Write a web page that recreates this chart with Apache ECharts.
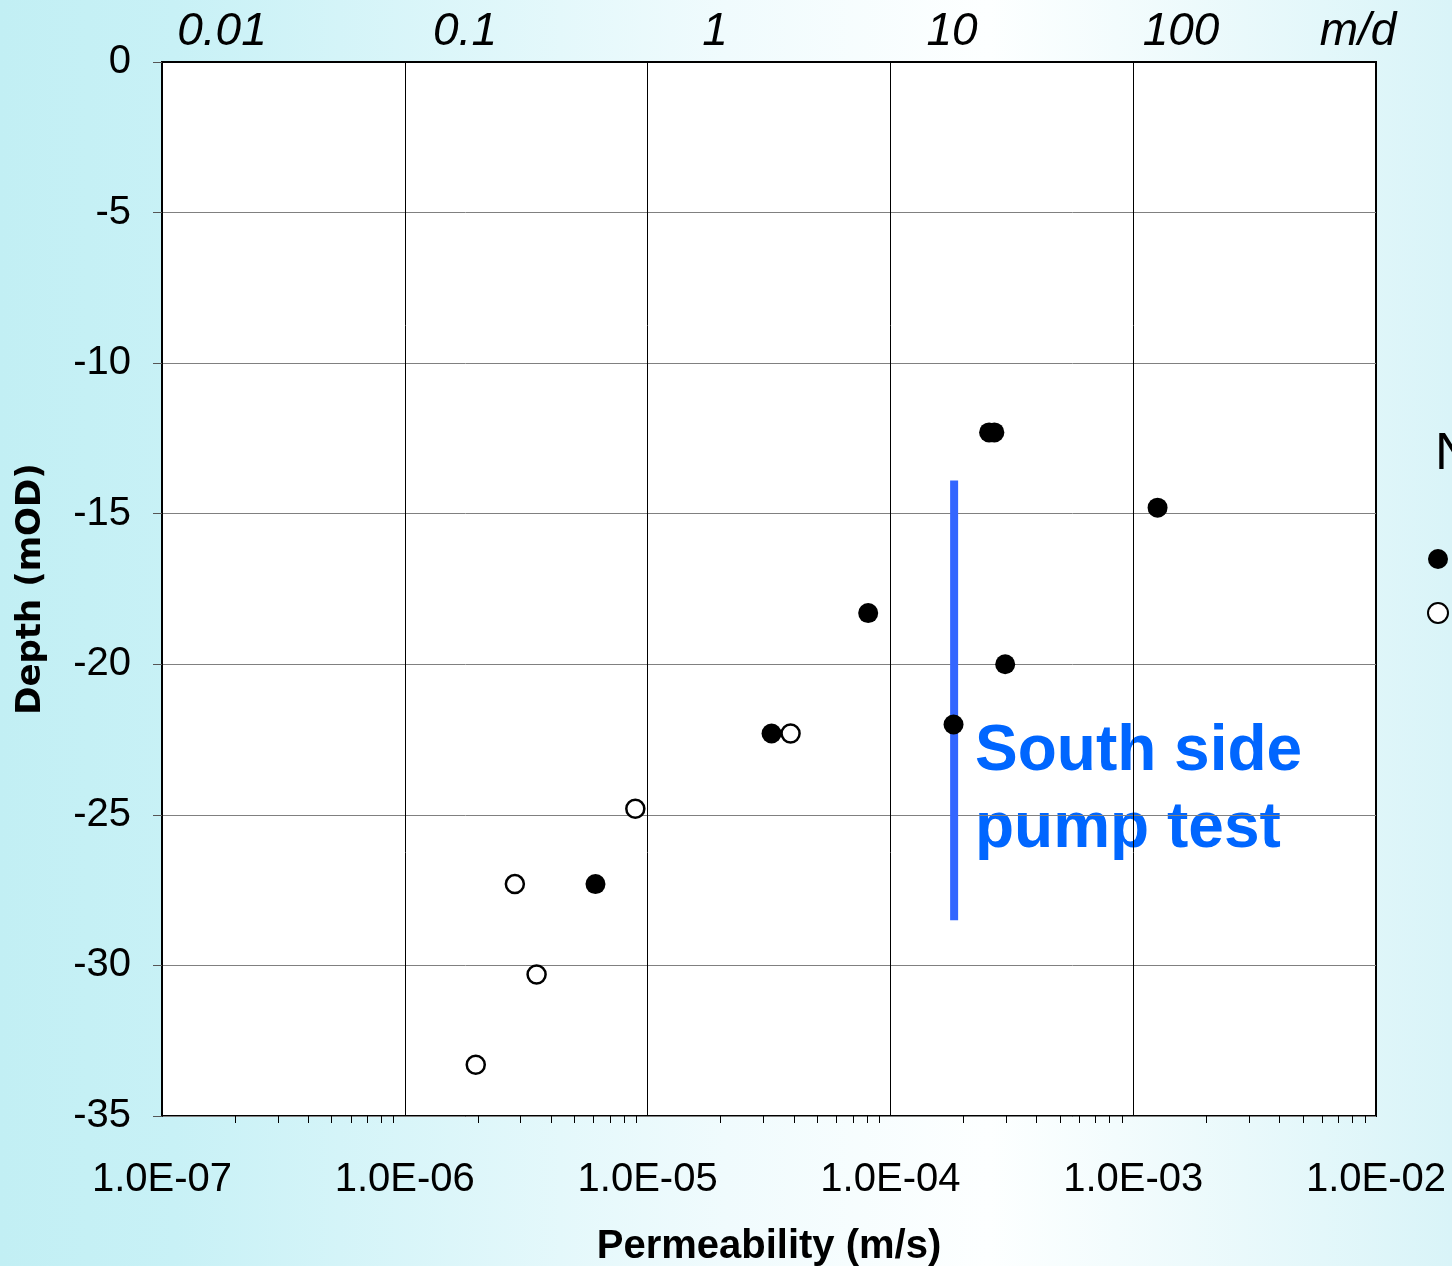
<!DOCTYPE html>
<html>
<head>
<meta charset="utf-8">
<script src="https://cdn.jsdelivr.net/npm/echarts@6/dist/echarts.min.js"></script>
<style>
html,body{margin:0;padding:0;}
#chart{width:1452px;height:1266px;}
</style>
</head>
<body>
<div id="chart"></div>
<script>
// ---- data ----
const filledK = [2.55e-4, 2.68e-4, 1.26e-3, 8.1e-5, 2.97e-4, 1.82e-4, 3.24e-5, 6.1e-6];
const filledDepth = [-12.3, -12.3, -14.8, -18.3, -20.0, -22.0, -22.3, -27.3];
const openK = [3.88e-5, 8.9e-6, 2.84e-6, 3.49e-6, 1.96e-6];
const openDepth = [-22.3, -24.8, -27.3, -30.3, -33.3];
const pumpK = [1.83e-4, 1.83e-4];
const pumpDepth = [-13.9, -28.5];
const topLabels = ['0.01', '0.1', '1', '10', '100', 'm/d'];
const minorTickValues = [];
for (let e = -7; e < -2; e++) {
  for (let m = 2; m <= 9; m++) minorTickValues.push(m * Math.pow(10, e));
}
const seriesNames = ['Filled', 'Open'];

const chart = echarts.init(document.getElementById('chart'), null, {renderer: 'canvas'});
const fmtK = v => {
  const e = Math.round(Math.log10(v));
  const s = e < 0 ? '-' : '+';
  const a = Math.abs(e);
  return '1.0E' + s + (a < 10 ? '0' + a : a);
};
const font = 'Liberation Sans';
const topX = [222, 465, 715, 952, 1181, 1358];

const option = {
  backgroundColor: {
    type: 'linear', x: 0, y: 0, x2: 1, y2: 0,
    colorStops: [
      {offset: 0, color: '#c2eff4'},
      {offset: 0.12, color: '#c8f1f6'},
      {offset: 0.5, color: '#f0fbfd'},
      {offset: 0.68, color: '#fdffff'},
      {offset: 1, color: '#d9f4f8'}
    ]
  },
  animation: false,
  textStyle: {fontFamily: font},
  grid: {left: 162, top: 62, right: 76, bottom: 150, containLabel: false, outerBoundsMode: 'none',
    show: true, backgroundColor: '#fff', borderColor: '#000', borderWidth: 2},
  legend: {
    orient: 'vertical', left: 1427, top: 549, padding: 0, itemWidth: 20, itemHeight: 20, itemGap: 33,
    textStyle: {fontSize: 14, color: '#000'},
    data: seriesNames
  },
  xAxis: [{
    type: 'log', logBase: 10, min: 1e-7, max: 1e-2,
    name: 'Permeability (m/s)', nameLocation: 'middle', nameGap: 111,
    nameTextStyle: {fontSize: 40, fontWeight: 'bold', color: '#000', fontFamily: font},
    axisLine: {lineStyle: {color: '#000', width: 2}},
    axisTick: {show: true, inside: false, length: 13, lineStyle: {color: '#000', width: 1}},
    axisLabel: {fontSize: 40, color: '#000', margin: 44, formatter: fmtK, fontFamily: font},
    splitLine: {show: true, lineStyle: {color: '#000', width: 1}},
    minorTick: {show: false}
  }, {
    type: 'log', logBase: 10, min: 1e-7, max: 1e-2, position: 'bottom', gridIndex: 0,
    axisLine: {show: false},
    axisTick: {show: true, inside: false, length: 7, customValues: minorTickValues, lineStyle: {color: '#000', width: 1}},
    axisLabel: {show: false},
    splitLine: {show: false}
  }],
  yAxis: {
    type: 'value', min: -35, max: 0, interval: 5,
    name: 'Depth (mOD)', nameLocation: 'middle', nameGap: 114,
    nameTextStyle: {fontSize: 34, fontWeight: 'bold', color: '#000', fontFamily: 'DejaVu Sans'},
    axisLine: {show: true, lineStyle: {color: '#000', width: 2}},
    axisTick: {show: true, inside: false, length: 9, lineStyle: {color: '#555', width: 1}},
    axisLabel: {fontSize: 40, color: '#000', margin: 31, fontFamily: font},
    splitLine: {show: true, lineStyle: {color: '#808080', width: 1}}
  },
  series: [
    {
      name: seriesNames[0], type: 'scatter', symbol: 'circle', symbolSize: 20,
      itemStyle: {color: '#000', opacity: 1},
      data: filledK.map((k, i) => [k, filledDepth[i]]), z: 5
    },
    {
      name: seriesNames[1], type: 'scatter', symbol: 'circle', symbolSize: 18,
      itemStyle: {color: '#fff', borderColor: '#000', borderWidth: 2.5, opacity: 1},
      data: openK.map((k, i) => [k, openDepth[i]]), z: 5
    },
    {
      name: 'South side pump test', type: 'line', symbol: 'none',
      lineStyle: {color: '#3366ff', width: 8},
      data: pumpK.map((k, i) => [k, pumpDepth[i]]), z: 4
    }
  ],
  graphic: [
    ...topLabels.map((t, i) => ({
      type: 'text', x: topX[i], y: 32,
      style: {text: t, font: 'italic 46px "Liberation Sans"', fill: '#000', textAlign: 'center', textVerticalAlign: 'middle'}
    })),
    {
      type: 'text', x: 975, y: 714,
      style: {text: 'South side\npump test', font: 'bold 64px "Liberation Sans"', fill: '#0066ff', lineHeight: 77, textAlign: 'left', textVerticalAlign: 'top'}
    },
    {
      type: 'text', x: 1435, y: 455,
      style: {text: 'N', font: '52px "Liberation Sans"', fill: '#000', textAlign: 'left', textVerticalAlign: 'middle'}
    }
  ]
};
chart.setOption(option);
</script>
</body>
</html>
